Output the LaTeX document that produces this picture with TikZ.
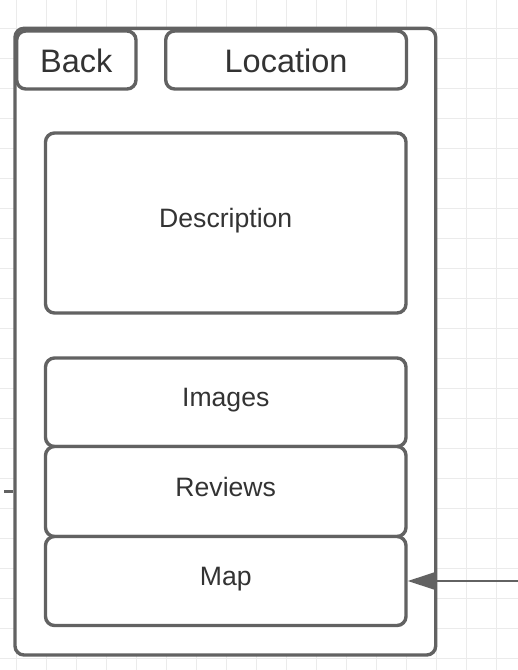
\documentclass[tikz,border=0pt]{standalone}
\usepackage{fontspec}
\setmainfont{Liberation Sans}
\usetikzlibrary{arrows.meta}
\definecolor{edgec}{HTML}{626262}
\definecolor{txtc}{HTML}{333333}
\definecolor{gridc}{HTML}{EBEBEB}
\tikzset{
  gridline/.style={draw=gridc, line width=1.5pt},
  box/.style={draw=edgec, line width=3.4pt, fill=white, rounded corners=9pt, inner sep=0pt,
    text=txtc, font=\fontsize{26.6}{26.6}\selectfont, text height=19pt, text depth=10pt},
  hdr/.style={box, font=\fontsize{32.5}{32.5}\selectfont, text height=25pt, text depth=0pt},
  conn/.style={draw=edgec, line width=2.4pt},
}
\begin{document}
\begin{tikzpicture}[x=1pt, y=-1pt]
  \useasboundingbox (0,0) rectangle (518,670);
  \fill[white] (0,0) rectangle (518,670);
  \foreach \k in {0,...,16} {
    \draw[gridline] (16.7+30*\k,0) -- (16.7+30*\k,670);
  }
  \foreach \k in {0,...,21} {
    \draw[gridline] (0,28.3+30*\k) -- (518,28.3+30*\k);
  }
  \node[box, minimum width=420.7pt, minimum height=626.7pt] (outer) at (225.35,341.65) {};
  \node[hdr, minimum width=119.3pt, minimum height=58pt] (back) at (76.35,60) {Back};
  \node[hdr, minimum width=240.8pt, minimum height=58pt] (loc) at (286.1,60) {Location};
  \node[box, minimum width=360.5pt, minimum height=180pt] (desc) at (225.75,223) {Description};
  \node[box, minimum width=360.5pt, minimum height=88.5pt] (img) at (225.75,402.25) {Images};
  \node[box, minimum width=360.5pt, minimum height=90pt] (rev) at (225.75,491.5) {Reviews};
  \node[box, minimum width=360.5pt, minimum height=89pt] (map) at (225.75,581) {Map};
  \coordinate (ar) at (518,581);
  \draw[conn, -{Triangle[length=27pt,width=17pt]}] (ar) -- (map.east);
  \coordinate (ls) at (4,491.5);
  \draw[conn] (ls) -- (ls -| outer.west);
\end{tikzpicture}
\end{document}
